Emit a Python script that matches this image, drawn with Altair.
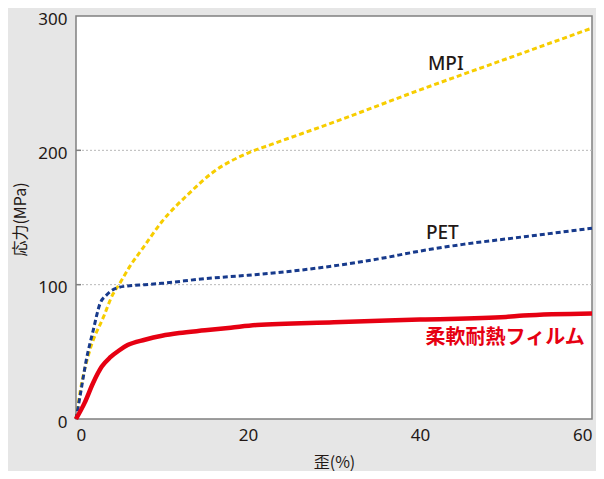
import altair as alt
import pandas as pd

# data
mpi_x = [0, 0.5, 1.6, 3.2, 4.3, 5, 6.3, 7.75, 10, 13, 16, 20, 23, 30, 40, 50, 60]
mpi_y = [0, 21, 51, 76, 93, 100, 114, 127, 147, 167, 184, 198, 205, 221, 245, 268, 291]

pet_x = [0, 0.5, 1.2, 2, 2.8, 3.5, 4, 5, 6, 8, 10, 15, 20, 25, 30, 35, 40, 45, 50, 55, 60]
pet_y = [0, 18, 44, 66, 86, 92, 95, 98, 99, 100, 101, 104.5, 107, 110, 114, 119, 125, 130, 134, 138, 142]

red_x = [0, 1, 2, 3, 4, 5, 6, 8, 10, 12, 15, 18, 21, 30, 40, 50, 52, 60]
red_y = [0, 12, 27, 39, 46, 51, 55, 59, 62, 64, 66, 68, 70, 72, 74, 76, 77, 78.5]

series_names = ["MPI", "PET", "柔軟耐熱フィルム"]
label_x = [43.0, 42.6, 49.9]
label_y = [264.4, 138.5, 60.5]
grid_values = [100, 200]

rows = []
for n, xs, ys in zip(series_names, [mpi_x, pet_x, red_x], [mpi_y, pet_y, red_y]):
    for i, (a, b) in enumerate(zip(xs, ys)):
        rows.append({"series": n, "x": a, "y": b, "o": i})
df = pd.DataFrame(rows)

xs = alt.Scale(domain=[0, 60], nice=False)
ys = alt.Scale(domain=[0, 300], nice=False)

font = "Noto Sans"
cjk = "Noto Sans CJK JP"

base = alt.Chart(df)

grid = alt.Chart(pd.DataFrame({"g": grid_values})).mark_rule(
    color="#b8b8b8", strokeDash=[2, 2], strokeWidth=1
).encode(y=alt.Y("g:Q", scale=ys))

ticks = alt.Chart(pd.DataFrame({"g": grid_values})).mark_rule(
    color="#808080", strokeWidth=1.5
).encode(y=alt.Y("g:Q", scale=ys), x=alt.value(0), x2=alt.value(5))

def line(name, color, dash, width):
    m = dict(color=color, strokeWidth=width, interpolate="monotone")
    if dash:
        m["strokeDash"] = dash
    return base.transform_filter(alt.datum.series == name).mark_line(**m).encode(
        x=alt.X("x:Q", scale=xs,
                axis=alt.Axis(values=[0, 20, 40, 60], title="歪(%)", grid=False,
                              domain=False, ticks=False, labelFontSize=17,
                              labelColor="#231815", labelFont=font, labelPadding=8,
                              titleFont=cjk, titleFontSize=16, titleColor="#231815",
                              titleFontWeight="normal", titleY=43, titleBaseline="middle")),
        y=alt.Y("y:Q", scale=ys,
                axis=alt.Axis(values=[0, 100, 200, 300], title="応力(MPa)", grid=False,
                              domain=False, ticks=False, labelFontSize=17,
                              labelColor="#231815", labelFont=font, labelPadding=9,
                              labelOffset=3,
                              titleFont=cjk, titleFontSize=16, titleColor="#231815",
                              titleFontWeight="normal", titleX=-56, titleY=203,
                              titleAngle=-90, titleAlign="center", titleBaseline="middle")),
        order="o:Q",
    )

mpi = line("MPI", "#f7cd00", [5, 3], 3)
pet = line("PET", "#173a8c", [5, 3], 3)
red = line("柔軟耐熱フィルム", "#e60012", None, 4.5)

lab_df = pd.DataFrame({"t": series_names, "x": label_x, "y": label_y})
labels_dark = alt.Chart(lab_df).transform_filter(alt.datum.t != "柔軟耐熱フィルム").mark_text(
    font=font, fontSize=19, color="#231815", fontWeight=500
).encode(x=alt.X("x:Q", scale=xs), y=alt.Y("y:Q", scale=ys), text="t:N")
labels_red = alt.Chart(lab_df).transform_filter(alt.datum.t == "柔軟耐熱フィルム").mark_text(
    font=cjk, fontSize=20, color="#e60012", fontWeight="bold"
).encode(x=alt.X("x:Q", scale=xs), y=alt.Y("y:Q", scale=ys), text="t:N")

chart = alt.layer(grid, ticks, mpi, pet, red, labels_dark, labels_red).properties(
    width=516, height=403,
    background="#e6e6e6",
    padding={"left": 68, "top": 8, "right": 4, "bottom": 52},
    autosize=alt.AutoSizeParams(type="none"),
).configure_view(fill="white", stroke="#808080", strokeWidth=1.5)

chart.save("out.html", embed_options={"renderer": "svg", "actions": False})
